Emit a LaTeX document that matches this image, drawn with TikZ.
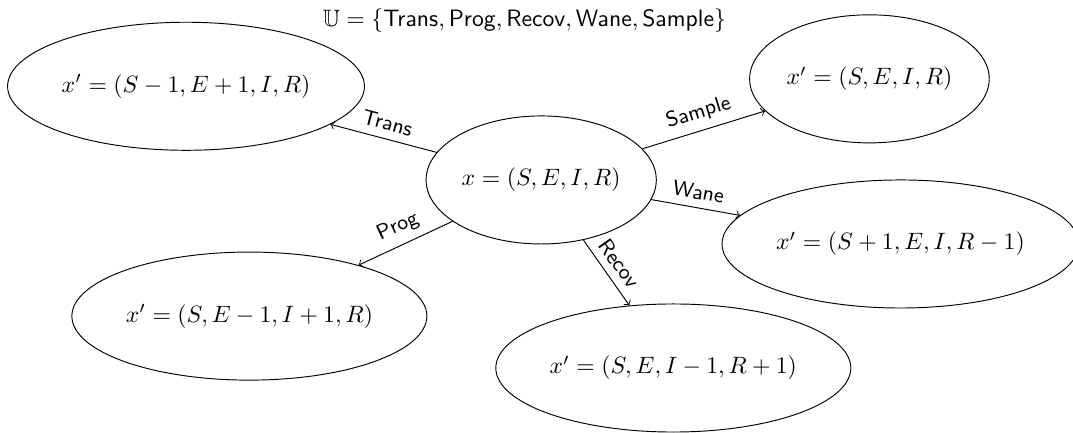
\documentclass[tikz,border=0pt]{standalone}
\usepackage{amsmath}
\usepackage{amssymb}
\usepackage{tikz}
\usepackage{xcolor}
\usetikzlibrary{shapes}

\begin{document}
\begin{tikzpicture}[
        state/.style={ellipse, draw, minimum height=1.9cm, inner xsep=0.8pt, inner ysep=2.5pt},
        move/.style={->, above, sloped, font=\small\sffamily}
    ]
        \useasboundingbox (-8.03, -3.74) rectangle (7.89, 2.67);

        \node at (-0.25, 2.37) (U) {$\mathbb{U} = \{\textsf{Trans}, \textsf{Prog}, \textsf{Recov}, \textsf{Wane}, \textsf{Sample}\}$};

        \node[state] at (0, 0) (x) {$x = (S, E, I, R)$};
        \node[state] at (-5.27, 1.39) (trans) {$x' = (S-1, E+1, I, R)$};
        \node[state] at (4.87, 1.50) (sample) {$x' = (S, E, I, R)$};
        \node[state] at (5.33, -0.95) (wane) {$x' = (S+1, E, I, R-1)$};
        \node[state] at (-4.33, -2.02) (prog) {$x' = (S, E-1, I+1, R)$};
        \node[state] at (1.96, -2.79) (recov) {$x' = (S, E, I-1, R+1)$};

        \draw[move] (x) to node {Trans} (trans);
        \draw[move] (x) to node {Sample} (sample);
        \draw[move] (x) to node {Wane} (wane);
        \draw[move] (x) to node {Prog} (prog);
        \draw[move] (x) to node {Recov} (recov);
    \end{tikzpicture}
\end{document}
